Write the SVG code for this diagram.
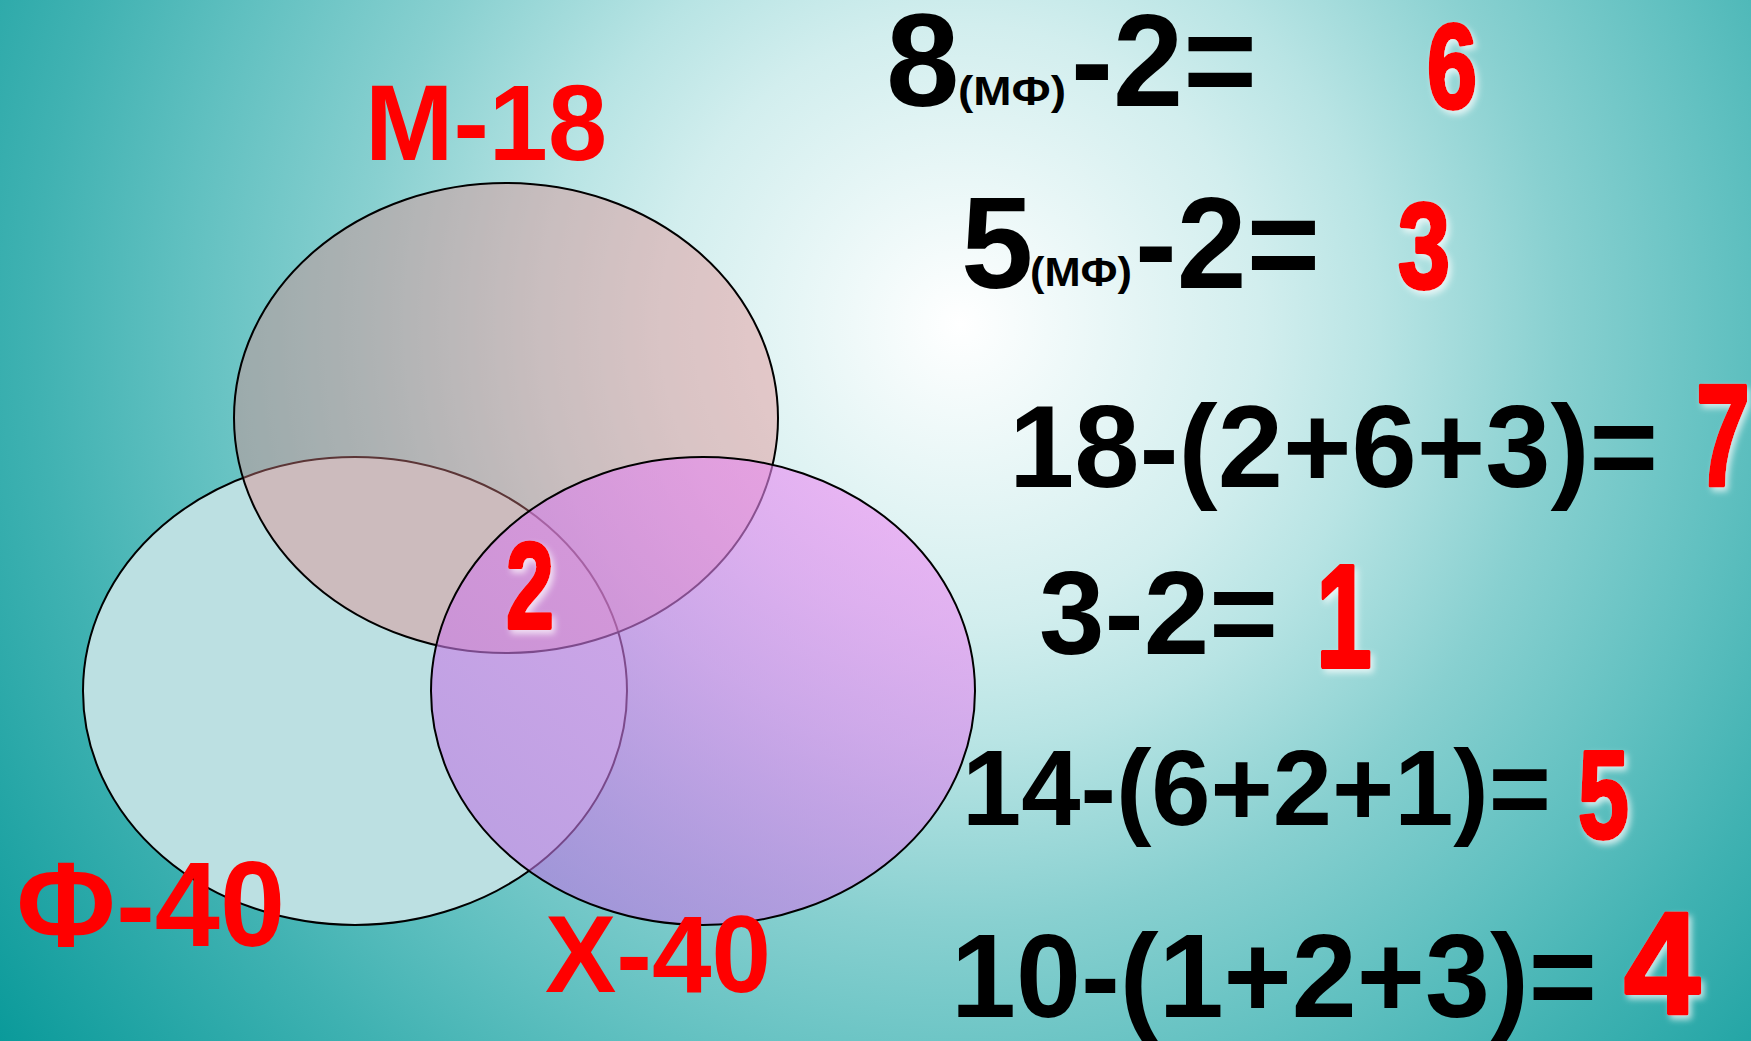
<svg xmlns="http://www.w3.org/2000/svg" width="1751" height="1041" viewBox="0 0 1751 1041">
<defs>
<radialGradient id="bg" gradientUnits="userSpaceOnUse" cx="960" cy="324" r="1200">
<stop offset="0" stop-color="#ffffff"/>
<stop offset="0.25" stop-color="#d2eeee"/>
<stop offset="0.35" stop-color="#b8e4e4"/>
<stop offset="0.5" stop-color="#88d0d0"/>
<stop offset="0.65" stop-color="#60c0c0"/>
<stop offset="0.77" stop-color="#40b2b2"/>
<stop offset="1" stop-color="#0a9a9a"/>
</radialGradient>
<linearGradient id="gx" x1="1" y1="0" x2="0" y2="1">
<stop offset="0" stop-color="#f590f5"/>
<stop offset="0.5" stop-color="#d67eeb"/>
<stop offset="1" stop-color="#b472e0"/>
</linearGradient>
<filter id="glow" x="-30%" y="-30%" width="160%" height="160%">
<feDropShadow dx="3" dy="4" stdDeviation="3" flood-color="#ffffff" flood-opacity="0.7"/>
</filter>
<style>
.el{stroke:#000;stroke-width:2}
.bk{font-family:"Liberation Sans",Arial,sans-serif;font-weight:bold;fill:#000}
.rd{font-family:"Liberation Sans",Arial,sans-serif;font-weight:bold;fill:#ff0000}
.ans{filter:url(#glow);stroke:#ff0000;stroke-width:4;stroke-linejoin:round}
</style>
</defs>
<rect x="0" y="0" width="1751" height="1041" fill="url(#bg)"/>

<g id="set-phi">
<ellipse class="el" cx="355" cy="691" rx="272" ry="234" fill="#bce0e2"/>
</g>
<g id="set-m">
<ellipse class="el" cx="506" cy="418" rx="272" ry="235" fill="#e48486" fill-opacity="0.4"/>
</g>
<g id="set-x">
<ellipse class="el" cx="703" cy="691" rx="272" ry="234" fill="url(#gx)" fill-opacity="0.6"/>
</g>
<g id="connectors"/>

<g id="label-m"><text class="rd" x="365" y="160" font-size="108" textLength="242" lengthAdjust="spacingAndGlyphs">М-18</text></g>
<g id="label-phi"><text class="rd" x="16" y="946" font-size="120" textLength="269" lengthAdjust="spacingAndGlyphs">Ф-40</text></g>
<g id="label-x"><text class="rd" x="545" y="992" font-size="110" textLength="226" lengthAdjust="spacingAndGlyphs">Х-40</text></g>
<g id="label-center"><text class="rd ans" x="506" y="628" font-size="122" textLength="48" lengthAdjust="spacingAndGlyphs">2</text></g>

<g id="eq1">
<text class="bk" x="886" y="106" font-size="132">8</text>
<text class="bk" x="958" y="105" font-size="40" textLength="108" lengthAdjust="spacingAndGlyphs">(МФ)</text>
<text class="bk" x="1071" y="106" font-size="132" textLength="186" lengthAdjust="spacingAndGlyphs">-2=</text>
<text class="rd ans" x="1427" y="108" font-size="120" textLength="50" lengthAdjust="spacingAndGlyphs">6</text>
</g>
<g id="eq2">
<text class="bk" x="961" y="288" font-size="130">5</text>
<text class="bk" x="1030" y="286" font-size="40" textLength="102" lengthAdjust="spacingAndGlyphs">(МФ)</text>
<text class="bk" x="1135" y="288" font-size="130" textLength="185" lengthAdjust="spacingAndGlyphs">-2=</text>
<text class="rd ans" x="1398" y="288" font-size="120" textLength="52" lengthAdjust="spacingAndGlyphs">3</text>
</g>
<g id="eq3">
<text class="bk" x="1009" y="487" font-size="117" textLength="649" lengthAdjust="spacingAndGlyphs">18-(2+6+3)=</text>
<text class="rd ans" x="1696" y="485" font-size="144" textLength="54" lengthAdjust="spacingAndGlyphs">7</text>
</g>
<g id="eq4">
<text class="bk" x="1039" y="654" font-size="118" textLength="239" lengthAdjust="spacingAndGlyphs">3-2=</text>
<text class="rd ans" x="1316" y="667" font-size="146" textLength="56" lengthAdjust="spacingAndGlyphs">1</text>
</g>
<g id="eq5">
<text class="bk" x="962" y="825" font-size="108" textLength="589" lengthAdjust="spacingAndGlyphs">14-(6+2+1)=</text>
<text class="rd ans" x="1578" y="838" font-size="125" textLength="51" lengthAdjust="spacingAndGlyphs">5</text>
</g>
<g id="eq6">
<text class="bk" x="951" y="1017" font-size="118" textLength="646" lengthAdjust="spacingAndGlyphs">10-(1+2+3)=</text>
<text class="rd ans" x="1624" y="1013" font-size="144" textLength="76" lengthAdjust="spacingAndGlyphs">4</text>
</g>
</svg>
